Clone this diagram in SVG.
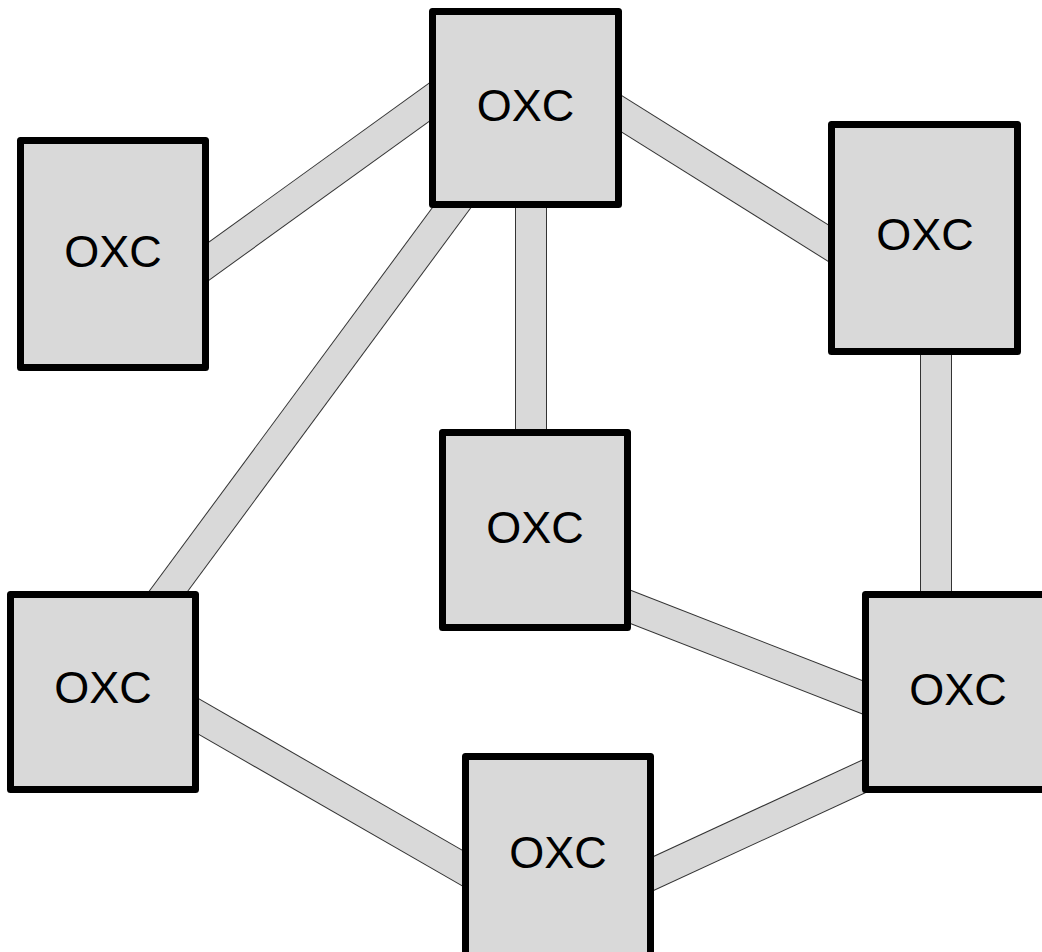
<svg xmlns="http://www.w3.org/2000/svg" width="1042" height="952" viewBox="0 0 1042 952">
<style>
.box{fill:#d9d9d9;stroke:#000;stroke-width:7;stroke-linejoin:round}
.lbl{font-family:"Liberation Sans",Arial,sans-serif;font-size:45px;fill:#000;text-anchor:middle}
.lo{stroke:#333;stroke-width:32;fill:none}
.li{stroke:#d9d9d9;stroke-width:30;fill:none}
</style>
<rect width="1042" height="952" fill="#fff"/>
<g id="links">
<g id="l1"><line class="lo" x1="180" y1="282" x2="460" y2="80"/><line class="li" x1="180" y1="282" x2="460" y2="80"/></g>
<g id="l2"><line class="lo" x1="590" y1="94" x2="860" y2="263"/><line class="li" x1="590" y1="94" x2="860" y2="263"/></g>
<g id="l3"><line class="lo" x1="475" y1="176" x2="145" y2="623"/><line class="li" x1="475" y1="176" x2="145" y2="623"/></g>
<g id="l4"><line class="lo" x1="531" y1="180" x2="531" y2="460"/><line class="li" x1="531" y1="180" x2="531" y2="460"/></g>
<g id="l5"><line class="lo" x1="936" y1="330" x2="936" y2="620"/><line class="li" x1="936" y1="330" x2="936" y2="620"/></g>
<g id="l6"><line class="lo" x1="600" y1="595" x2="895" y2="710"/><line class="li" x1="600" y1="595" x2="895" y2="710"/></g>
<g id="l7"><line class="lo" x1="170" y1="700" x2="490" y2="884"/><line class="li" x1="170" y1="700" x2="490" y2="884"/></g>
<g id="l8"><line class="lo" x1="620" y1="889" x2="895" y2="762"/><line class="li" x1="620" y1="889" x2="895" y2="762"/></g>
</g>
<g id="n-top"><rect class="box" x="432.5" y="11.5" width="186" height="193"/><text class="lbl" x="525.5" y="121">OXC</text></g>
<g id="n-left"><rect class="box" x="20.5" y="140.5" width="185" height="227"/><text class="lbl" x="113" y="267">OXC</text></g>
<g id="n-right"><rect class="box" x="831.5" y="124.5" width="186" height="227"/><text class="lbl" x="925" y="250">OXC</text></g>
<g id="n-mid"><rect class="box" x="442.5" y="432.5" width="185" height="195"/><text class="lbl" x="535" y="543">OXC</text></g>
<g id="n-bl"><rect class="box" x="10.5" y="594.5" width="185" height="195"/><text class="lbl" x="103" y="703">OXC</text></g>
<g id="n-br"><rect class="box" x="865.5" y="594.5" width="185" height="195"/><text class="lbl" x="958" y="705">OXC</text></g>
<g id="n-bot"><rect class="box" x="465.5" y="756.5" width="185" height="200"/><text class="lbl" x="558" y="868">OXC</text></g>
</svg>
